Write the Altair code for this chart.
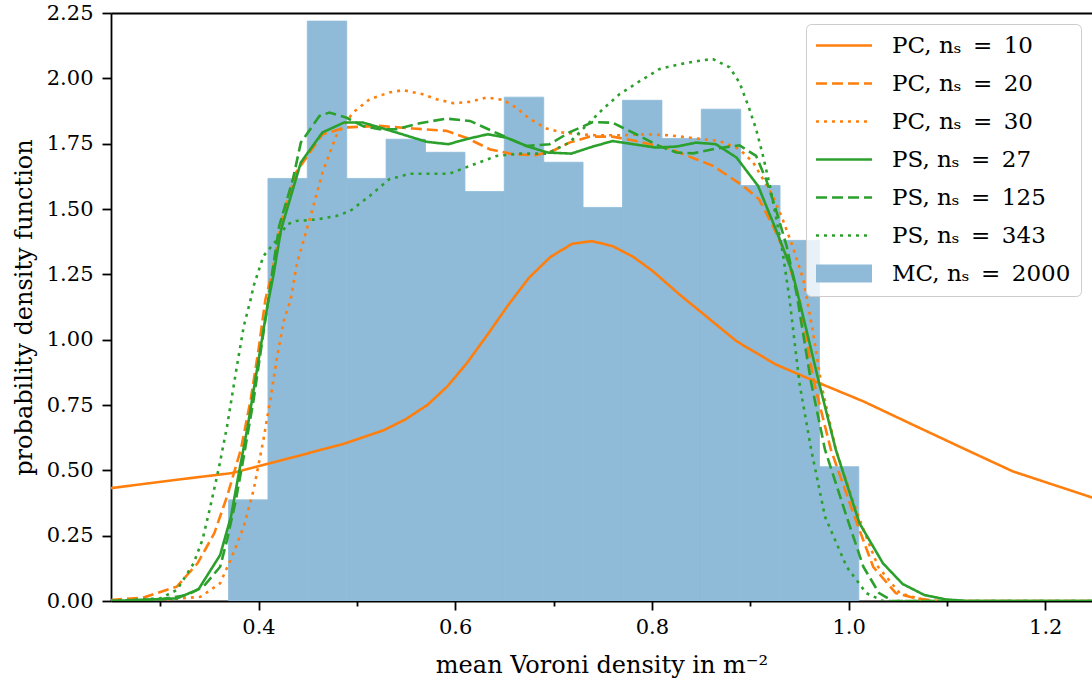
import altair as alt
import pandas as pd

FONT = "DejaVu Serif"

# ---- histogram (MC, n_s = 2000) ----
bin_edges = [0.3695, 0.4096, 0.4496, 0.4897, 0.5297, 0.5698, 0.6099, 0.6499, 0.6900,
             0.7300, 0.7701, 0.8102, 0.8502, 0.8903, 0.9303, 0.9704, 1.0104]
mc_density = [0.387, 1.617, 2.219, 1.617, 1.767, 1.717, 1.567, 1.928, 1.679,
              1.506, 1.916, 1.770, 1.882, 1.590, 1.380, 0.514]

# ---- PDF curves ----
pc10_x = [0.25, 0.317, 0.372, 0.419, 0.487, 0.527, 0.549, 0.572, 0.592, 0.612, 0.633, 0.653,
          0.675, 0.697, 0.719, 0.739, 0.760, 0.781, 0.801, 0.828, 0.855, 0.886, 0.926, 0.970,
          1.015, 1.065, 1.116, 1.167, 1.25]
pc10_y = [0.432, 0.464, 0.489, 0.534, 0.602, 0.653, 0.694, 0.751, 0.821, 0.911, 1.020, 1.128,
          1.237, 1.317, 1.367, 1.377, 1.358, 1.317, 1.262, 1.173, 1.090, 0.994, 0.905, 0.834,
          0.764, 0.675, 0.585, 0.496, 0.393]

pc20_x = [0.25, 0.283, 0.317, 0.338, 0.355, 0.368, 0.382, 0.392, 0.400, 0.407, 0.413, 0.423,
          0.438, 0.465, 0.489, 0.523, 0.557, 0.591, 0.611, 0.635, 0.659, 0.682, 0.699, 0.716,
          0.737, 0.760, 0.784, 0.818, 0.862, 0.893, 0.909, 0.923, 0.937, 0.950, 0.965, 0.982,
          1.006, 1.025, 1.048, 1.069, 1.09, 1.25]
pc20_y = [0.004, 0.013, 0.055, 0.144, 0.259, 0.400, 0.579, 0.770, 0.962, 1.154, 1.243, 1.448,
          1.639, 1.786, 1.812, 1.818, 1.808, 1.799, 1.773, 1.729, 1.709, 1.706, 1.722, 1.754,
          1.777, 1.777, 1.760, 1.731, 1.665, 1.588, 1.537, 1.435, 1.320, 1.154, 0.834, 0.579,
          0.323, 0.131, 0.030, 0.010, 0.0, 0.0]

pc30_x = [0.25, 0.300, 0.341, 0.361, 0.373, 0.385, 0.395, 0.405, 0.412, 0.419, 0.426, 0.4325,
          0.439, 0.452, 0.465, 0.479, 0.496, 0.513, 0.533, 0.547, 0.567, 0.581, 0.598, 0.615,
          0.632, 0.648, 0.662, 0.676, 0.693, 0.709, 0.726, 0.743, 0.767, 0.794, 0.818, 0.852,
          0.869, 0.889, 0.903, 0.913, 0.923, 0.933, 0.943, 0.954, 0.964, 0.972, 0.987, 1.010,
          1.030, 1.052, 1.08, 1.25]
pc30_y = [0.0, 0.003, 0.016, 0.068, 0.170, 0.285, 0.425, 0.617, 0.770, 0.936, 1.077, 1.150,
          1.290, 1.460, 1.639, 1.780, 1.869, 1.920, 1.946, 1.955, 1.939, 1.920, 1.905, 1.910,
          1.927, 1.918, 1.888, 1.844, 1.808, 1.793, 1.786, 1.782, 1.782, 1.786, 1.782, 1.767,
          1.760, 1.729, 1.678, 1.614, 1.550, 1.460, 1.358, 1.230, 1.026, 0.834, 0.579, 0.323,
          0.131, 0.030, 0.0, 0.0]

ps27_x = [0.25, 0.317, 0.339, 0.361, 0.372, 0.380, 0.389, 0.399, 0.409, 0.415, 0.423, 0.443,
          0.465, 0.487, 0.506, 0.540, 0.571, 0.593, 0.611, 0.633, 0.652, 0.674, 0.694, 0.718,
          0.740, 0.760, 0.781, 0.804, 0.825, 0.845, 0.865, 0.886, 0.908, 0.926, 0.943, 0.957,
          0.970, 0.987, 1.011, 1.035, 1.055, 1.077, 1.099, 1.12, 1.25]
ps27_y = [0.0, 0.010, 0.045, 0.176, 0.323, 0.489, 0.668, 0.898, 1.128, 1.243, 1.422, 1.678,
          1.793, 1.831, 1.831, 1.793, 1.757, 1.748, 1.767, 1.786, 1.773, 1.739, 1.716, 1.712,
          1.739, 1.760, 1.748, 1.735, 1.739, 1.754, 1.748, 1.697, 1.588, 1.422, 1.256, 1.039,
          0.834, 0.579, 0.298, 0.144, 0.065, 0.023, 0.006, 0.0, 0.0]

ps125_x = [0.25, 0.300, 0.3275, 0.344, 0.361, 0.368, 0.377, 0.385, 0.395, 0.405, 0.421, 0.435,
           0.443, 0.462, 0.472, 0.489, 0.506, 0.523, 0.540, 0.564, 0.591, 0.615, 0.645, 0.672,
           0.696, 0.716, 0.740, 0.760, 0.784, 0.808, 0.825, 0.842, 0.865, 0.889, 0.906, 0.916,
           0.926, 0.937, 0.947, 0.962, 0.976, 0.998, 1.015, 1.031, 1.045, 1.25]
ps125_y = [0.0, 0.006, 0.023, 0.055, 0.131, 0.234, 0.387, 0.553, 0.770, 1.026, 1.435, 1.614,
           1.754, 1.856, 1.869, 1.850, 1.818, 1.805, 1.805, 1.828, 1.846, 1.837, 1.786, 1.741,
           1.748, 1.793, 1.833, 1.830, 1.786, 1.740, 1.716, 1.713, 1.731, 1.744, 1.703, 1.614,
           1.499, 1.358, 1.179, 0.834, 0.579, 0.323, 0.131, 0.030, 0.0, 0.0]

ps343_x = [0.25, 0.300, 0.317, 0.334, 0.343, 0.351, 0.360, 0.368, 0.378, 0.385, 0.392, 0.395,
           0.405, 0.419, 0.429, 0.438, 0.459, 0.479, 0.493, 0.513, 0.533, 0.554, 0.574, 0.594,
           0.615, 0.642, 0.665, 0.693, 0.716, 0.733, 0.750, 0.767, 0.788, 0.808, 0.828, 0.848,
           0.862, 0.879, 0.889, 0.898, 0.906, 0.913, 0.920, 0.926, 0.933, 0.940, 0.950, 0.962,
           0.976, 0.998, 1.018, 1.035, 1.25]
ps343_y = [0.0, 0.010, 0.042, 0.144, 0.234, 0.361, 0.515, 0.668, 0.898, 1.051, 1.154, 1.205,
           1.320, 1.384, 1.441, 1.454, 1.460, 1.473, 1.492, 1.550, 1.614, 1.635, 1.635, 1.635,
           1.665, 1.703, 1.712, 1.712, 1.754, 1.818, 1.882, 1.939, 1.990, 2.036, 2.054, 2.067,
           2.074, 2.042, 1.984, 1.895, 1.805, 1.703, 1.588, 1.473, 1.333, 1.154, 0.834, 0.579,
           0.323, 0.131, 0.030, 0.0, 0.0]

SP = "\u2002"
labels = [
    f"PC, nₛ{SP}={SP}10",
    f"PC, nₛ{SP}={SP}20",
    f"PC, nₛ{SP}={SP}30",
    f"PS, nₛ{SP}={SP}27",
    f"PS, nₛ{SP}={SP}125",
    f"PS, nₛ{SP}={SP}343",
    f"MC, nₛ{SP}={SP}2000",
]
colors = ["#ff7f0e", "#ff7f0e", "#ff7f0e", "#2ca02c", "#2ca02c", "#2ca02c", "#8fbbd9"]
dashes = [[1, 0], [11, 5], [3, 5], [1, 0], [11, 5], [3, 5], [1, 0]]
widths = [2.6, 2.6, 2.6, 2.6, 2.6, 2.6, 18]

x_ticks = [0.3, 0.4, 0.5, 0.6, 0.7, 0.8, 0.9, 1.0, 1.1, 1.2]
y_ticks = [0, 0.25, 0.5, 0.75, 1.0, 1.25, 1.5, 1.75, 2.0, 2.25]

series = [(pc10_x, pc10_y), (pc20_x, pc20_y), (pc30_x, pc30_y),
          (ps27_x, ps27_y), (ps125_x, ps125_y), (ps343_x, ps343_y)]
rows = []
for lab, (xs, ys) in zip(labels[:6], series):
    for xv, yv in zip(xs, ys):
        rows.append({"series": lab, "x": xv, "y": yv})
lines_df = pd.DataFrame(rows)

hist_df = pd.DataFrame({
    "x0": bin_edges[:-1],
    "x1": bin_edges[1:],
    "d": mc_density,
    "base": [0.0] * len(mc_density),
})

x_scale = alt.Scale(domain=[0.25, 1.2475], nice=False, zero=False)
y_scale = alt.Scale(domain=[0, 2.25], nice=False, zero=False)

y_axis = alt.Axis(values=y_ticks, format=".2f", tickSize=9, orient="left", labelPadding=9,
                  title="probability density function", titlePadding=10,
                  titleFontSize=24, labelOverlap=False, labelFlush=False)

bars = alt.Chart(hist_df).mark_rect(color="#8fbbd9", stroke="#8fbbd9", strokeWidth=0.8,
                                    clip=True).encode(
    x=alt.X("x0:Q", scale=x_scale,
            axis=alt.Axis(orient="top", labels=False, ticks=False, domain=True,
                          grid=False, title=None, domainColor="black", domainWidth=1.8)),
    x2="x1:Q",
    y=alt.Y("d:Q", scale=y_scale, axis=y_axis),
    y2="base:Q",
)

legend = alt.Legend(
    title=None, orient="none", legendX=695, legendY=11,
    symbolType="M-4.67,0H4.67", symbolSize=144, symbolOffset=13, labelOffset=33,
    clipHeight=23, rowPadding=14, padding=10, fillColor="rgba(255,255,255,0.8)",
    strokeColor="#cccccc", cornerRadius=5,
    labelFont=FONT, labelFontSize=23, labelColor="black", labelLimit=400,
)

lines = alt.Chart(lines_df).mark_line(clip=True).encode(
    x=alt.X("x:Q", scale=x_scale,
            axis=alt.Axis(
                values=x_ticks, orient="bottom",
                labelExpr="(round(datum.value*10) % 2 == 0) ? format(datum.value, '.1f') : ''",
                tickSize={"condition": {"test": "round(datum.value*10) % 2 == 1", "value": 5},
                          "value": 9},
                labelOverlap=False, labelFlush=False,
                title="mean Voroni density in m⁻²", titlePadding=16, titleFontSize=24,
            )),
    y=alt.Y("y:Q", scale=y_scale, axis=y_axis),
    color=alt.Color("series:N", scale=alt.Scale(domain=labels, range=colors), legend=legend),
    strokeDash=alt.StrokeDash("series:N", scale=alt.Scale(domain=labels, range=dashes),
                              legend=legend),
    strokeWidth=alt.StrokeWidth("series:N",
                                scale=alt.Scale(type="ordinal", domain=labels, range=widths),
                                legend=legend),
)

chart = alt.layer(bars, lines).properties(
    width=981, height=588,
    padding={"left": 111, "top": 13, "right": 0, "bottom": 85},
    autosize=alt.AutoSizeParams(type="none"),
).configure_view(stroke=None).configure_axis(
    grid=False,
    domainColor="black", domainWidth=1.8,
    tickColor="black", tickWidth=1.8,
    labelFont=FONT, labelFontSize=21, labelColor="black", labelPadding=6,
    titleFont=FONT, titleFontSize=21, titleColor="black", titleFontWeight="normal",
)

chart.save("out.html", embed_options={"renderer": "svg", "actions": False})
